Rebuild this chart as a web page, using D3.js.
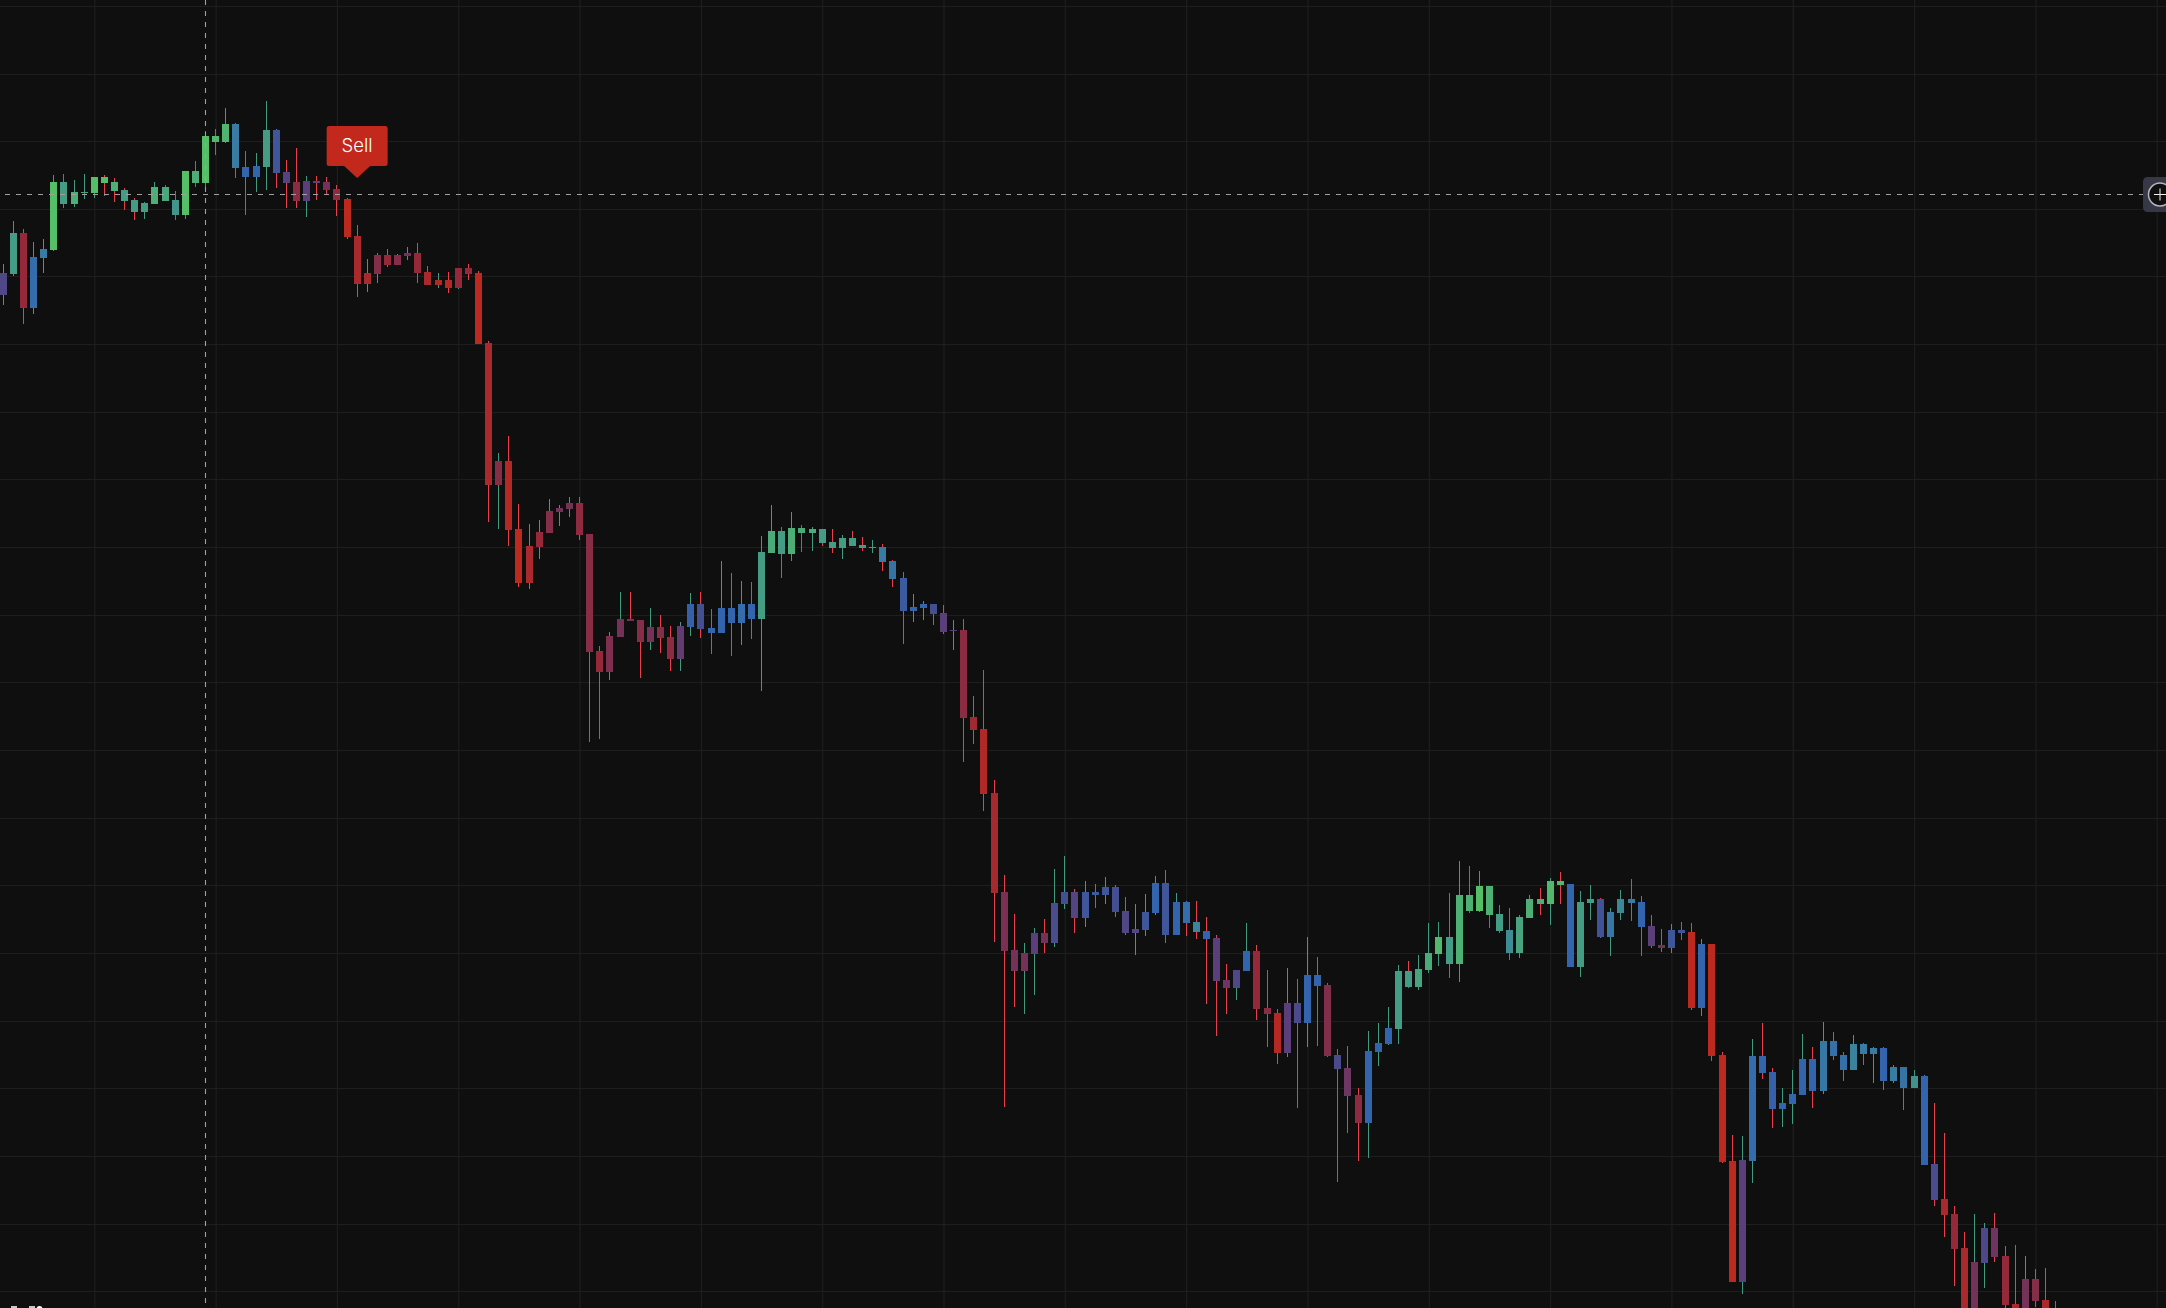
<!DOCTYPE html>
<html>
<head>
<meta charset="utf-8">
<script src="https://cdn.jsdelivr.net/npm/d3@7"></script>
<style>
html,body{margin:0;padding:0;background:#0f0f0f;overflow:hidden}
svg{display:block}
</style>
</head>
<body>
<div id="chart"></div>
<script>
const open=[1013,1034,1075,1000,1050,1058,1126,1104,1115,1115,
1131,1126,1118,1108,1096,1104,1121,1108,1093,1137,
1125,1172,1166,1184,1141,1131,1141,1178,1136,1126,
1107,1127,1126,1119,1109,1072,1024,1034,1053,1043,
1052,1055,1036,1023,1028,1020,1040,1035,965,823,
847,779,725,761,775,796,799,805,774,657,
636,671,689,688,666,681,671,649,681,704,
680,675,700,685,704,689,755,777,754,780,
775,779,766,760,770,763,760,761,747,730,
697,700,704,695,677,678,591,579,515,416,
358,337,354,375,365,404,416,390,416,413,
421,397,375,378,395,425,373,406,386,377,
370,328,320,337,357,300,295,255,305,285,
333,323,253,240,213,185,256,264,279,337,
321,338,354,371,344,413,397,422,394,378,
355,390,409,404,427,424,341,405,409,371,
395,409,406,382,363,360,378,376,300,364,
253,147,26,147,252,236,199,204,213,249,
217,267,253,238,264,254,260,227,241,220,
232,144,109,94,60,-10,45,80,52,4,
-10,29,8,-5];
const close=[1035,1075,1000,1051,1059,1126,1104,1116,1116,1131,
1125,1117,1107,1096,1105,1121,1107,1093,1137,1125,
1172,1166,1184,1140,1131,1142,1178,1135,1125,1107,
1127,1125,1118,1108,1071,1024,1035,1053,1043,1053,
1055,1035,1023,1028,1020,1040,1034,964,823,847,
778,725,762,776,797,800,805,773,656,636,
672,689,687,666,681,670,649,682,704,679,
675,700,685,704,689,756,777,754,780,775,
779,765,760,770,762,760,761,746,729,697,
701,704,694,676,678,590,578,514,415,357,
337,355,375,365,405,416,390,416,413,421,
396,375,379,396,425,373,406,385,376,369,
327,320,338,357,299,294,255,305,285,333,
322,252,239,212,185,257,265,280,337,321,
339,355,371,344,413,397,422,393,377,355,
391,409,404,427,423,341,406,409,371,396,
409,405,381,362,360,378,375,300,364,252,
146,26,148,252,235,199,205,214,249,217,
267,252,238,264,254,260,227,241,220,232,
143,108,93,59,-20,46,80,51,3,-5,
29,7,-10,-15];
const high=[1044,1087,1079,1066,1069,1133,1134,1128,1134,1131,
1133,1130,1120,1110,1106,1126,1123,1117,1137,1147,
1177,1179,1200,1185,1157,1155,1207,1179,1148,1160,
1132,1132,1131,1123,1110,1083,1049,1055,1059,1054,
1061,1065,1042,1035,1036,1040,1044,1037,967,855,
872,804,784,788,809,803,811,811,774,662,
676,716,716,688,700,693,682,686,715,716,
699,747,735,727,726,772,803,781,796,783,
781,779,779,773,777,771,768,764,748,736,
714,707,704,703,688,689,612,638,528,433,
394,365,380,389,439,452,419,427,424,431,
423,411,404,414,432,438,415,407,407,391,
373,344,338,385,363,338,299,340,329,371,
351,325,259,262,220,277,285,301,343,347,
353,385,386,415,447,442,437,422,403,400,
393,413,420,430,436,424,417,423,410,400,
418,429,412,393,379,384,386,385,369,364,
256,173,172,269,285,240,220,238,274,261,
286,276,256,273,265,261,261,243,241,238,
233,205,175,102,76,94,85,95,62,63,
52,39,40,7];
const low=[1003,1032,984,994,1035,1057,1100,1101,1109,1110,
1112,1106,1098,1088,1089,1104,1107,1088,1089,1121,
1116,1153,1165,1130,1093,1116,1118,1120,1100,1100,
1091,1108,1114,1092,1069,1011,1016,1025,1041,1043,
1048,1025,1023,1020,1015,1019,1028,964,786,779,
762,721,719,749,775,782,791,768,566,569,
628,671,687,630,658,655,637,637,672,670,
654,675,652,663,669,617,755,730,747,756,
757,762,755,749,762,757,755,737,721,664,
686,688,683,674,658,546,564,497,366,201,
301,294,313,355,361,399,375,381,400,404,
391,373,353,372,393,365,373,372,369,304,
272,294,308,337,288,261,244,251,200,261,
262,251,126,175,147,150,242,263,264,320,
318,335,342,330,326,395,396,380,375,348,
350,390,393,383,404,341,331,388,370,352,
388,387,352,360,356,355,368,298,292,247,
145,26,14,125,229,180,181,184,213,200,
214,248,227,238,243,225,218,225,198,220,
143,102,71,22,-30,-20,20,46,-5,-10,
-15,1,-15,-20];
// oscillator tone of each candle: 0 = green ... 8 = red
const tone=[4.5,1,7,2.7,2,0,1,.5,.7,0,
0,.5,1,1,1,.5,.7,1.2,0,.5,
0,.2,.3,2,3,3,1,3.7,4.8,6.7,
5,5,6,6.8,8,7.5,7.5,6.5,7,6.5,
6,7,7.5,7.7,7.8,7,7,8,7.5,6.6,
7.8,8,7.5,7,6.5,6,6,6.8,6.6,7,
6.3,6,6,6.5,6,6.5,6.8,5.3,3.2,4,
3,3,3,2.7,3,1,.6,1,.5,.6,
.6,1,1,1,1,1,1,2,2.3,3.5,
3,3,4,5,5,6.7,7.3,7.7,7.4,6.2,
6,6,5,6,4.2,4,4.7,3.7,3.5,3.7,
4,4.5,4.5,3.7,3,3.7,3,2.7,1.7,3,
5,5.7,4.5,3,7,6.7,7.8,5,4.3,3,
3,6.4,4.3,5.7,6.8,3,3,3,1,1,
.8,.6,.2,1,.4,.4,0,.4,1,1.5,
.8,.5,.5,.2,.2,3,1,1,3.8,2.2,
1.6,2,3,5,6,3.7,3.7,8,3,8,
8,8,5,2.7,3,3.2,3,3,3,3,
2.2,2.5,2.5,1.8,2,2,3,2,2.3,1.3,
3,4.2,7.5,7,7.5,6,4.4,5.8,7,7.5,
6,6.5,7.5,7];
const tonePalette=["#54bf67","#459c85","#387ba3","#3365ae","#444f92","#5b3f7a","#743259","#95293a","#bc291e"];
const priceGrid=[1302,1234,1167,1099,1032,964,896,829,761,693,626,558,490,423,355,287,220,152,84,17];
const timeGrid=d3.range(9,214,12);
const crosshairIndex=20, crosshairPrice=1114;
const signalIndex=35, signalPrice=1130, signalText="Sell";

const W=2166,H=1308;
const x=d3.scaleLinear().domain([0,1]).range([3.3,13.41]);
const y=d3.scaleLinear().domain([0,H]).range([H,0]);
const color=d3.scaleLinear().domain(d3.range(tonePalette.length)).range(tonePalette);
const wickUp="#3f9a7e", wickDown="#ea3f4b";
const bodyW=7;

const svg=d3.select("#chart").append("svg").attr("width",W).attr("height",H).attr("viewBox",[0,0,W,H]);
svg.append("rect").attr("width",W).attr("height",H).attr("fill","#0f0f0f");

const gridColor="#1e1e1e";
const gx=svg.append("g").attr("transform","translate(0,"+H+")")
 .call(d3.axisBottom(x).tickValues(timeGrid).tickSize(-H).tickFormat(""));
const gy=svg.append("g")
 .call(d3.axisLeft(y).tickValues(priceGrid).tickSize(-W).tickFormat(""));
[gx,gy].forEach(g=>{g.select(".domain").remove();g.selectAll("line").attr("stroke",gridColor).attr("stroke-width",1.2);});

const data=open.map((o,i)=>({i,o,c:close[i],h:high[i],l:low[i],t:tone[i]}));
const candles=svg.append("g").selectAll("g").data(data).join("g");
candles.append("rect")
 .attr("x",d=>Math.floor(x(d.i)))
 .attr("width",1)
 .attr("y",d=>Math.round(y(d.h)))
 .attr("height",d=>Math.max(1,Math.round(y(d.l))-Math.round(y(d.h))))
 .attr("fill",d=>d.c>=d.o?wickUp:wickDown);
candles.append("rect")
 .attr("x",d=>Math.round(x(d.i)-bodyW/2))
 .attr("width",bodyW)
 .attr("y",d=>Math.round(y(Math.max(d.o,d.c))))
 .attr("height",d=>Math.max(1,Math.round(y(Math.min(d.o,d.c)))-Math.round(y(Math.max(d.o,d.c)))))
 .attr("fill",d=>color(d.t));

// crosshair
const cx=Math.floor(x(crosshairIndex))+0.5, cy=Math.round(y(crosshairPrice))+0.5;
svg.append("line").attr("x1",cx).attr("x2",cx).attr("y1",0).attr("y2",H)
 .attr("stroke","#a0a0a0").attr("stroke-width",1.1).attr("stroke-dasharray","5 6");
svg.append("line").attr("x1",5).attr("x2",2146).attr("y1",cy).attr("y2",cy)
 .attr("stroke","#a0a0a0").attr("stroke-width",1.1).attr("stroke-dasharray","5 6");

// signal marker
const sx=x(signalIndex), sy=y(signalPrice);
const bx0=sx-30.5,bx1=sx+30.5,by0=sy-52,by1=sy-12,r=2.5;
svg.append("path").attr("fill","#c2281c").attr("d",
 `M${bx0+r},${by0}H${bx1-r}Q${bx1},${by0} ${bx1},${by0+r}V${by1-r}Q${bx1},${by1} ${bx1-r},${by1}`+
 `H${sx+13}L${sx},${sy}L${sx-13},${by1}H${bx0+r}Q${bx0},${by1} ${bx0},${by1-r}V${by0+r}Q${bx0},${by0} ${bx0+r},${by0}Z`);
svg.append("text").attr("x",sx).attr("y",by0+26).attr("text-anchor","middle")
 .attr("font-family","Inter, Roboto, sans-serif").attr("font-weight",300).attr("font-size",18.5).attr("fill","#ffffff").text(signalText);

// plus button on the price edge
const by=cy;
svg.append("path").attr("fill","#363945").attr("d",
 `M${W+10},${by-17.5}H2148Q2143,${by-17.5} 2143,${by-12.5}V${by+12.5}Q2143,${by+17.5} 2148,${by+17.5}H${W+10}Z`);
svg.append("circle").attr("cx",2160).attr("cy",by).attr("r",11.5)
 .attr("fill","#0f0f0f").attr("stroke","#b4b6bd").attr("stroke-width",1.5);
svg.append("path").attr("d",`M2154,${by}H2166M2160,${by-6}V${by+6}`).attr("stroke","#f0f0f0").attr("stroke-width",1).attr("fill","none");

// attribution logo, almost entirely below the fold
const logo=svg.append("g");
logo.append("rect").attr("x",11).attr("y",1306).attr("width",6).attr("height",4).attr("fill","#c8c8c8");
logo.append("rect").attr("x",29).attr("y",1306).attr("width",6).attr("height",4).attr("fill","#c8c8c8");
logo.append("circle").attr("cx",39.5).attr("cy",1309).attr("r",3).attr("fill","#ffffff");
</script>
</body>
</html>
